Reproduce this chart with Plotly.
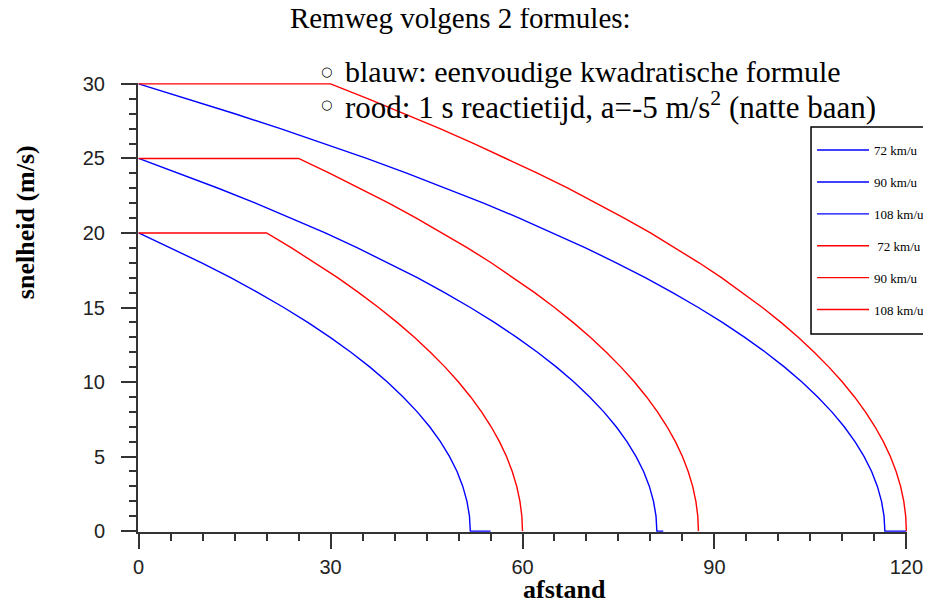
import plotly.graph_objects as go

# Speeds (m/s) used for sampling each braking curve
v20 = [20, 19, 18, 17, 16, 15, 14, 13, 12, 11, 10, 9, 8, 7, 6, 5, 4, 3, 2, 1, 0, 0]
v25 = [25, 24, 23, 22, 21, 20, 19, 18, 17, 16, 15, 14, 13, 12, 11, 10, 9, 8, 7, 6, 5, 4, 3, 2, 1, 0, 0]
v30 = [30, 29, 28, 27, 26, 25, 24, 23, 22, 21, 20, 19, 18, 17, 16, 15, 14, 13, 12, 11, 10,
       9, 8, 7, 6, 5, 4, 3, 2, 1, 0, 0]

# Blue: simple quadratic formula (distance in m)
blue20_x = [0, 5.05, 9.85, 14.39, 18.66, 22.68, 26.44, 29.94, 33.18, 36.16, 38.88, 41.34, 43.55,
            45.49, 47.17, 48.60, 49.77, 50.67, 51.32, 51.71, 51.84, 55.0]
blue25_x = [0, 6.35, 12.44, 18.27, 23.85, 29.16, 34.21, 39.01, 43.55, 47.82, 51.84, 55.60, 59.10,
            62.34, 65.32, 68.04, 70.50, 72.71, 74.65, 76.33, 77.76, 78.93, 79.83, 80.48, 80.87, 81.0, 82.0]
blue30_x = [0, 7.65, 15.03, 22.16, 29.03, 35.64, 41.99, 48.08, 53.91, 59.49, 64.80, 69.85, 74.65,
            79.19, 83.46, 87.48, 91.24, 94.74, 97.98, 100.96, 103.68, 106.14, 108.35, 110.29,
            111.97, 113.40, 114.57, 115.47, 116.12, 116.51, 116.64, 120.0]

# Red: 1 s reaction time, a = -5 m/s^2 (wet road)
red20_v = [20, 20, 19, 18, 17, 16, 15, 14, 13, 12, 11, 10, 9, 8, 7, 6, 5, 4, 3, 2, 1, 0]
red20_x = [0, 20, 23.9, 27.6, 31.1, 34.4, 37.5, 40.4, 43.1, 45.6, 47.9, 50.0, 51.9, 53.6, 55.1,
           56.4, 57.5, 58.4, 59.1, 59.6, 59.9, 60.0]
red25_v = [25, 25, 24, 23, 22, 21, 20, 19, 18, 17, 16, 15, 14, 13, 12, 11, 10, 9, 8, 7, 6, 5, 4, 3, 2, 1, 0]
red25_x = [0, 25, 29.9, 34.6, 39.1, 43.4, 47.5, 51.4, 55.1, 58.6, 61.9, 65.0, 67.9, 70.6, 73.1,
           75.4, 77.5, 79.4, 81.1, 82.6, 83.9, 85.0, 85.9, 86.6, 87.1, 87.4, 87.5]
red30_v = [30, 30, 29, 28, 27, 26, 25, 24, 23, 22, 21, 20, 19, 18, 17, 16, 15, 14, 13, 12, 11, 10,
           9, 8, 7, 6, 5, 4, 3, 2, 1, 0]
red30_x = [0, 30, 35.9, 41.6, 47.1, 52.4, 57.5, 62.4, 67.1, 71.6, 75.9, 80.0, 83.9, 87.6, 91.1,
           94.4, 97.5, 100.4, 103.1, 105.6, 107.9, 110.0, 111.9, 113.6, 115.1, 116.4, 117.5,
           118.4, 119.1, 119.6, 119.9, 120.0]

x_ticks = [0, 30, 60, 90, 120]
y_ticks = [0, 5, 10, 15, 20, 25, 30]

names = ["72 km/u", "90 km/u", "108 km/u", " 72 km/u", "90 km/u", "108 km/u"]
series = [
    (blue20_x, v20, "#0000FF"),
    (blue25_x, v25, "#0000FF"),
    (blue30_x, v30, "#0000FF"),
    (red20_x, red20_v, "#FF0000"),
    (red25_x, red25_v, "#FF0000"),
    (red30_x, red30_v, "#FF0000"),
]

fig = go.Figure()
for i, ((xs, ys, col), nm) in enumerate(zip(series, names)):
    fig.add_trace(go.Scatter(
        x=xs, y=ys, mode="lines", name=nm, legendgroup=f"g{i}",
        line=dict(color=col, width=1.4), cliponaxis=False,
    ))

serif = "Liberation Serif"
axis_common = dict(
    showline=True, linecolor="#333333", linewidth=2,
    ticks="outside", tickcolor="#333333", tickwidth=2, ticklen=15,
    showgrid=False, zeroline=False, automargin=False, layer="below traces",
    tickfont=dict(family="Liberation Sans", size=20, color="#222222"),
)

fig.update_xaxes(
    range=[-0.1, 120.1], tickvals=x_ticks,
    minor=dict(dtick=5, ticks="outside", ticklen=7, tickcolor="#333333", tickwidth=2, showgrid=False),
    ticklabelstandoff=1,
    **axis_common,
)
fig.update_yaxes(
    range=[-0.06, 30.06], tickvals=y_ticks,
    minor=dict(dtick=1, ticks="outside", ticklen=7, tickcolor="#333333", tickwidth=2, showgrid=False),
    ticklabelstandoff=12,
    **axis_common,
)

# axis titles (placed off-centre as in the reference)
fig.add_annotation(
    text="<b>afstand</b>", xref="paper", yref="paper", x=0.555, y=-0.129,
    xanchor="center", yanchor="middle", showarrow=False,
    font=dict(family=serif, size=26, color="#000"),
)
fig.add_annotation(
    text="<b>snelheid (m/s)</b>", xref="paper", yref="paper", x=-0.147, y=0.69,
    xanchor="center", yanchor="middle", showarrow=False, textangle=-90,
    font=dict(family=serif, size=26, color="#000"),
)

# bullet circles and subtitle lines
for yy in (1.0245, 0.951):
    fig.add_annotation(
        text="○", xref="paper", yref="paper", x=0.2445, y=yy + 0.002,
        xanchor="center", yanchor="middle", showarrow=False,
        font=dict(family="DejaVu Sans", size=13, color="#000"),
    )
fig.add_annotation(
    text="blauw: eenvoudige kwadratische formule", xref="paper", yref="paper",
    x=0.2665, y=1.0245, xanchor="left", yanchor="middle", showarrow=False,
    font=dict(family=serif, size=30, color="#000"),
)
fig.add_annotation(
    text="rood: 1 s reactietijd, a=-5 m/s<sup>2</sup> (natte baan)", xref="paper", yref="paper",
    x=0.2665, y=0.951, xanchor="left", yanchor="middle", showarrow=False,
    font=dict(family=serif, size=31, color="#000"),
)

# legend frame (extends past the right edge, as in the reference)
fig.add_shape(
    type="rect", xref="paper", yref="paper", x0=0.8752, x1=1.1, y0=0.441, y1=0.902,
    line=dict(color="#000", width=1.5), fillcolor="white", layer="above",
)

# page body has an 8 px margin, so the figure is 8 px smaller and shifted
fig.update_layout(
    width=923, height=598,
    margin=dict(l=130, r=24, t=75, b=74, autoexpand=False),
    paper_bgcolor="white", plot_bgcolor="white",
    title=dict(text="Remweg volgens 2 formules:", x=0.49, xanchor="center", y=1.0, yanchor="top",
               font=dict(family=serif, size=29, color="#000")),
    legend=dict(
        x=0.8765, y=0.884, xanchor="left", yanchor="top",
        bgcolor="rgba(0,0,0,0)", borderwidth=0,
        font=dict(family=serif, size=13, color="#000"),
        tracegroupgap=12, traceorder="grouped", itemwidth=52,
    ),
    showlegend=True,
)

fig.write_html("out.html")
